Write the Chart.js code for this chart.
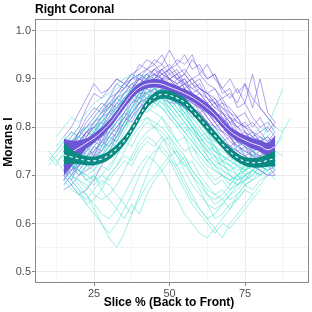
<!DOCTYPE html>
<html><head><meta charset="utf-8">
<script src="https://cdn.jsdelivr.net/npm/chart.js@4/dist/chart.umd.min.js"></script>
<style>html,body{margin:0;padding:0;background:#fff;}canvas{display:block;}</style>
</head><body>
<canvas id="c" width="312" height="312"></canvas>
<script>
const chartTitle = 'Right Coronal';
const xTitle = 'Slice % (Back to Front)';
const yTitle = 'Morans I';
const xTickLabels = [25, 50, 75];
const xGridValues = [12.5, 25, 37.5, 50, 62.5, 75, 87.5];
const yTickLabels = [0.5, 0.6, 0.7, 0.8, 0.9, 1.0];
const yGridValues = [0.5, 0.55, 0.6, 0.65, 0.7, 0.75, 0.8, 0.85, 0.9, 0.95, 1.0];

// x positions (slice %)
const meanX = [15,17.5,20,22.5,25,27.5,30,32.5,35,37.5,40,42.5,45,47.5,50,52.5,55,57.5,60,62.5,65,67.5,70,72.5,75,77.5,80,82.5,85];
const lineX = [10,12.5,15,17.5,20,22.5,25,27.5,30,32.5,35,37.5,40,42.5,45,47.5,50,52.5,55,57.5,60,62.5,65,67.5,70,72.5,75,77.5,80,82.5,85,87.5,90];

// smoothed means and ribbons
const purpleMean = [0.740,0.748,0.757,0.767,0.777,0.790,0.806,0.826,0.848,0.868,0.882,0.889,0.891,0.889,0.883,0.877,0.870,0.862,0.852,0.840,0.826,0.808,0.792,0.781,0.773,0.766,0.761,0.753,0.760];
const purpleLow  = [0.700,0.718,0.737,0.755,0.767,0.781,0.797,0.817,0.839,0.859,0.873,0.880,0.882,0.880,0.874,0.868,0.861,0.853,0.843,0.831,0.817,0.799,0.783,0.771,0.763,0.755,0.749,0.740,0.738];
const purpleHigh = [0.776,0.772,0.773,0.777,0.787,0.799,0.815,0.835,0.857,0.877,0.891,0.898,0.900,0.898,0.892,0.886,0.879,0.871,0.861,0.849,0.835,0.817,0.801,0.790,0.783,0.777,0.773,0.768,0.782];
const tealMean = [0.742,0.738,0.734,0.731,0.730,0.734,0.742,0.755,0.772,0.795,0.822,0.847,0.862,0.868,0.866,0.860,0.851,0.835,0.818,0.800,0.783,0.765,0.749,0.737,0.729,0.726,0.727,0.731,0.735];
const tealLow  = [0.722,0.724,0.723,0.721,0.721,0.725,0.733,0.746,0.763,0.786,0.813,0.838,0.853,0.859,0.857,0.851,0.842,0.826,0.809,0.791,0.774,0.756,0.740,0.728,0.720,0.716,0.716,0.718,0.718];
const tealHigh = [0.768,0.754,0.745,0.740,0.739,0.743,0.751,0.764,0.781,0.804,0.831,0.856,0.871,0.877,0.875,0.869,0.860,0.844,0.827,0.809,0.792,0.774,0.758,0.746,0.738,0.736,0.738,0.744,0.752];

// individual subjects, purple group (on meanX)
const purpleLines = [
 [0.76,0.78,0.80,0.84,0.87,0.86,0.88,0.90,0.89,0.91,0.92,0.94,0.93,0.95,0.92,0.94,0.93,0.95,0.91,0.93,0.90,0.88,0.90,0.87,0.89,0.86,0.84,0.82,0.80],
 [0.72,0.74,0.73,0.76,0.78,0.77,0.80,0.82,0.85,0.87,0.86,0.89,0.90,0.91,0.90,0.88,0.89,0.87,0.86,0.85,0.83,0.82,0.80,0.79,0.78,0.76,0.77,0.75,0.74],
 [0.75,0.77,0.79,0.78,0.81,0.83,0.84,0.86,0.88,0.90,0.91,0.92,0.91,0.92,0.90,0.91,0.89,0.88,0.89,0.86,0.85,0.83,0.82,0.80,0.81,0.79,0.78,0.77,0.78],
 [0.70,0.71,0.73,0.74,0.75,0.77,0.78,0.80,0.82,0.85,0.86,0.87,0.88,0.87,0.88,0.86,0.85,0.84,0.82,0.81,0.79,0.77,0.76,0.75,0.74,0.73,0.72,0.73,0.71],
 [0.73,0.75,0.76,0.78,0.80,0.82,0.83,0.85,0.87,0.88,0.90,0.89,0.90,0.89,0.88,0.87,0.88,0.86,0.85,0.84,0.83,0.81,0.80,0.78,0.77,0.76,0.75,0.74,0.76],
 [0.68,0.70,0.72,0.73,0.74,0.75,0.77,0.79,0.81,0.83,0.85,0.86,0.87,0.88,0.87,0.86,0.86,0.85,0.84,0.82,0.80,0.79,0.77,0.76,0.75,0.74,0.73,0.72,0.70],
 [0.77,0.76,0.79,0.80,0.82,0.84,0.86,0.87,0.89,0.90,0.91,0.90,0.92,0.91,0.90,0.89,0.90,0.88,0.87,0.86,0.84,0.83,0.81,0.80,0.79,0.78,0.79,0.77,0.79],
 [0.74,0.76,0.77,0.79,0.80,0.81,0.83,0.84,0.86,0.87,0.89,0.90,0.89,0.90,0.89,0.88,0.87,0.86,0.85,0.83,0.82,0.80,0.78,0.77,0.76,0.75,0.74,0.75,0.74],
 [0.72,0.74,0.75,0.77,0.78,0.80,0.82,0.84,0.86,0.88,0.89,0.91,0.90,0.92,0.93,0.91,0.92,0.90,0.91,0.89,0.88,0.86,0.87,0.85,0.89,0.84,0.90,0.83,0.81],
 [0.71,0.72,0.74,0.75,0.77,0.78,0.79,0.81,0.83,0.85,0.87,0.87,0.88,0.87,0.86,0.85,0.84,0.83,0.82,0.80,0.79,0.77,0.76,0.75,0.74,0.73,0.72,0.71,0.72],
 [0.78,0.80,0.83,0.86,0.89,0.87,0.88,0.90,0.89,0.91,0.90,0.92,0.93,0.91,0.92,0.90,0.89,0.90,0.88,0.87,0.86,0.84,0.83,0.81,0.80,0.79,0.77,0.78,0.76],
 [0.69,0.71,0.72,0.74,0.76,0.78,0.80,0.82,0.84,0.86,0.88,0.88,0.89,0.89,0.88,0.87,0.86,0.85,0.84,0.83,0.81,0.79,0.78,0.76,0.75,0.74,0.74,0.73,0.72],
 [0.76,0.77,0.78,0.80,0.81,0.83,0.85,0.87,0.88,0.90,0.90,0.91,0.92,0.93,0.91,0.90,0.91,0.89,0.88,0.87,0.85,0.84,0.82,0.81,0.80,0.78,0.77,0.76,0.77],
 [0.67,0.68,0.70,0.71,0.72,0.74,0.76,0.78,0.80,0.82,0.84,0.85,0.86,0.86,0.85,0.85,0.84,0.83,0.81,0.80,0.78,0.76,0.75,0.74,0.73,0.72,0.71,0.70,0.70],
 [0.74,0.75,0.77,0.79,0.81,0.82,0.84,0.86,0.87,0.89,0.90,0.90,0.91,0.90,0.92,0.93,0.91,0.94,0.92,0.90,0.91,0.88,0.86,0.88,0.85,0.91,0.84,0.82,0.80],
 [0.72,0.73,0.75,0.76,0.78,0.79,0.81,0.83,0.85,0.86,0.88,0.89,0.88,0.89,0.89,0.88,0.87,0.86,0.84,0.83,0.82,0.80,0.79,0.78,0.77,0.76,0.75,0.74,0.73],
 [0.70,0.68,0.66,0.67,0.69,0.72,0.75,0.78,0.81,0.83,0.85,0.86,0.87,0.86,0.86,0.85,0.84,0.83,0.82,0.80,0.79,0.77,0.76,0.74,0.73,0.72,0.71,0.70,0.71],
 [0.73,0.71,0.74,0.76,0.74,0.78,0.80,0.79,0.83,0.86,0.85,0.88,0.87,0.90,0.88,0.89,0.86,0.87,0.84,0.85,0.82,0.80,0.81,0.78,0.77,0.75,0.76,0.74,0.75],
 [0.75,0.73,0.76,0.78,0.80,0.79,0.82,0.85,0.84,0.87,0.89,0.88,0.91,0.89,0.90,0.88,0.89,0.87,0.86,0.84,0.85,0.82,0.80,0.79,0.77,0.78,0.76,0.75,0.77],
 [0.71,0.73,0.72,0.75,0.77,0.76,0.79,0.81,0.83,0.82,0.85,0.87,0.86,0.88,0.87,0.85,0.86,0.84,0.83,0.81,0.80,0.78,0.76,0.77,0.74,0.75,0.73,0.74,0.72],
 [0.74,0.76,0.78,0.77,0.79,0.81,0.83,0.82,0.85,0.88,0.90,0.89,0.90,0.92,0.90,0.89,0.90,0.87,0.88,0.86,0.84,0.85,0.82,0.80,0.78,0.79,0.77,0.78,0.76],
 [0.70,0.72,0.71,0.73,0.76,0.75,0.78,0.80,0.82,0.84,0.87,0.86,0.88,0.87,0.89,0.87,0.86,0.87,0.85,0.83,0.81,0.82,0.79,0.77,0.78,0.75,0.74,0.75,0.73],
 [0.77,0.79,0.78,0.81,0.83,0.85,0.84,0.87,0.89,0.88,0.91,0.90,0.92,0.90,0.91,0.92,0.89,0.90,0.88,0.87,0.85,0.86,0.83,0.82,0.80,0.81,0.79,0.80,0.78],
 [0.72,0.70,0.73,0.72,0.75,0.77,0.79,0.78,0.81,0.84,0.86,0.85,0.87,0.88,0.86,0.87,0.85,0.86,0.83,0.84,0.81,0.79,0.80,0.77,0.76,0.74,0.75,0.73,0.74],
 [0.75,0.77,0.76,0.79,0.80,0.82,0.85,0.84,0.87,0.89,0.88,0.90,0.91,0.90,0.90,0.91,0.88,0.89,0.87,0.85,0.86,0.83,0.81,0.82,0.79,0.77,0.78,0.76,0.78],
 [0.69,0.72,0.70,0.72,0.74,0.77,0.76,0.79,0.82,0.81,0.84,0.86,0.85,0.87,0.86,0.87,0.85,0.84,0.85,0.82,0.80,0.81,0.78,0.76,0.77,0.74,0.73,0.72,0.74],
 [0.76,0.74,0.77,0.79,0.78,0.80,0.83,0.86,0.85,0.88,0.90,0.91,0.89,0.91,0.92,0.90,0.91,0.89,0.90,0.87,0.88,0.85,0.84,0.82,0.83,0.80,0.82,0.79,0.81],
 [0.73,0.75,0.74,0.77,0.79,0.78,0.81,0.83,0.85,0.86,0.88,0.87,0.89,0.88,0.88,0.86,0.87,0.85,0.86,0.84,0.82,0.83,0.80,0.78,0.79,0.77,0.75,0.76,0.75],
 [0.71,0.69,0.72,0.74,0.73,0.76,0.78,0.77,0.80,0.83,0.85,0.84,0.86,0.87,0.85,0.86,0.84,0.82,0.83,0.81,0.79,0.77,0.78,0.75,0.76,0.73,0.74,0.72,0.73],
 [0.74,0.76,0.79,0.82,0.84,0.83,0.86,0.89,0.88,0.90,0.93,0.92,0.94,0.93,0.96,0.93,0.95,0.92,0.93,0.90,0.91,0.87,0.88,0.84,0.85,0.82,0.80,0.81,0.79],
 [0.74,0.72,0.75,0.77,0.79,0.81,0.80,0.83,0.86,0.87,0.86,0.89,0.89,0.90,0.88,0.90,0.88,0.86,0.87,0.85,0.83,0.81,0.82,0.79,0.78,0.76,0.77,0.75,0.76]
];

// individual subjects, cyan group (on lineX)
const cyanLines = [
 [null,null,0.73,0.72,0.74,0.73,0.72,0.74,0.76,0.78,0.81,0.84,0.86,0.87,0.88,0.87,0.86,0.85,0.83,0.81,0.79,0.77,0.75,0.74,0.73,0.72,0.71,0.72,0.73,0.74,0.75,null,null],
 [0.74,0.72,0.75,0.73,0.71,0.70,0.71,0.73,0.75,0.77,0.80,0.83,0.85,0.86,0.87,0.86,0.85,0.83,0.81,0.79,0.77,0.75,0.74,0.72,0.71,0.70,0.71,0.72,0.74,0.75,null,null,null],
 [null,null,0.70,0.68,0.66,0.64,0.65,0.67,0.70,0.72,0.75,0.78,0.80,0.82,0.81,0.80,0.78,0.75,0.72,0.70,0.68,0.66,0.65,0.66,0.68,0.70,0.72,0.71,0.73,null,null,null,null],
 [null,0.76,0.78,0.77,0.79,0.80,0.82,0.84,0.86,0.88,0.89,0.90,0.91,0.90,0.89,0.88,0.86,0.84,0.82,0.80,0.78,0.76,0.75,0.74,0.73,0.74,0.76,0.75,0.77,0.78,0.80,0.79,null],
 [null,null,null,0.69,0.67,0.64,0.62,0.60,0.58,0.60,0.63,0.66,0.70,0.73,0.75,0.76,0.74,0.71,0.68,0.65,0.63,0.61,0.62,0.64,0.66,0.68,0.69,0.70,null,null,null,null,null],
 [0.72,0.74,0.76,0.75,0.74,0.76,0.78,0.80,0.82,0.84,0.86,0.87,0.88,0.89,0.88,0.87,0.86,0.85,0.83,0.81,0.79,0.77,0.76,0.74,0.73,0.72,0.73,0.74,0.75,0.77,0.76,0.78,null],
 [null,null,0.72,0.70,0.69,0.68,0.66,0.65,0.66,0.68,0.71,0.74,0.77,0.79,0.80,0.79,0.77,0.74,0.71,0.68,0.66,0.64,0.63,0.64,0.66,0.67,0.69,0.70,0.72,0.71,null,null,null],
 [null,0.78,0.80,0.82,0.81,0.83,0.85,0.86,0.87,0.89,0.90,0.91,0.90,0.91,0.90,0.89,0.87,0.86,0.84,0.82,0.80,0.78,0.77,0.76,0.75,0.76,0.77,0.78,0.80,0.79,null,null,null],
 [null,null,0.74,0.73,0.72,0.71,0.73,0.75,0.78,0.81,0.84,0.86,0.87,0.86,0.87,0.85,0.84,0.82,0.80,0.78,0.76,0.74,0.72,0.71,0.70,0.69,0.70,0.71,0.73,0.72,0.74,null,null],
 [null,null,null,null,0.75,0.74,0.73,0.75,0.77,0.79,0.82,0.84,0.85,0.86,0.85,0.84,0.82,0.80,0.78,0.76,0.74,0.72,0.71,0.70,0.69,0.70,0.72,0.74,0.77,0.80,0.84,0.88,null],
 [null,null,0.71,0.69,0.67,0.66,0.64,0.62,0.61,0.63,0.66,0.69,0.72,0.74,0.73,0.71,0.68,0.65,0.62,0.60,0.58,0.57,0.59,0.61,0.63,0.66,0.68,0.69,null,null,null,null,null],
 [null,0.75,0.77,0.76,0.78,0.77,0.79,0.81,0.83,0.85,0.87,0.88,0.89,0.90,0.89,0.88,0.87,0.86,0.84,0.82,0.80,0.78,0.76,0.75,0.74,0.73,0.72,0.73,0.72,0.71,0.73,null,null],
 [null,null,null,0.70,0.68,0.66,0.63,0.60,0.57,0.55,0.58,0.62,0.66,0.70,0.74,0.77,0.78,0.76,0.74,0.71,0.69,0.67,0.66,0.65,0.67,0.69,0.70,null,null,null,null,null,null],
 [null,null,0.73,0.74,0.72,0.73,0.75,0.77,0.80,0.83,0.85,0.87,0.88,0.87,0.88,0.86,0.85,0.83,0.81,0.79,0.77,0.75,0.73,0.72,0.71,0.72,0.70,0.71,0.72,0.73,null,null,null],
 [null,null,null,0.72,0.71,0.70,0.69,0.70,0.72,0.74,0.77,0.79,0.81,0.82,0.80,0.78,0.75,0.72,0.69,0.66,0.63,0.61,0.59,0.57,0.60,0.62,0.64,0.66,0.68,0.70,0.72,null,null],
 [null,null,0.76,0.78,0.80,0.79,0.81,0.83,0.85,0.86,0.88,0.89,0.89,0.88,0.89,0.87,0.86,0.84,0.82,0.80,0.78,0.76,0.74,0.73,0.72,0.71,0.72,0.74,0.73,0.75,null,null,null],
 [0.73,0.75,0.77,0.79,0.78,0.77,0.79,0.80,0.82,0.84,0.86,0.87,0.86,0.85,0.86,0.84,0.83,0.81,0.79,0.77,0.75,0.73,0.72,0.70,0.69,0.68,0.70,0.71,0.70,0.72,null,null,null],
 [null,null,0.69,0.67,0.66,0.65,0.67,0.69,0.68,0.66,0.64,0.62,0.65,0.68,0.70,0.72,0.74,0.75,0.73,0.70,0.67,0.64,0.61,0.62,0.64,0.65,0.67,null,null,null,null,null,null],
 [null,null,0.74,0.76,0.75,0.77,0.79,0.82,0.84,0.86,0.85,0.87,0.86,0.87,0.86,0.85,0.83,0.81,0.79,0.77,0.75,0.73,0.71,0.70,0.69,0.70,0.68,0.69,0.70,0.71,0.69,null,null],
 [null,null,0.75,0.77,0.76,0.74,0.77,0.79,0.81,0.80,0.83,0.85,0.87,0.86,0.88,0.86,0.84,0.85,0.82,0.80,0.77,0.78,0.75,0.73,0.74,0.72,0.71,0.73,0.72,0.74,null,null,null],
 [null,0.73,0.71,0.72,0.70,0.72,0.71,0.74,0.77,0.76,0.79,0.82,0.84,0.83,0.85,0.84,0.82,0.80,0.81,0.78,0.75,0.73,0.74,0.71,0.70,0.68,0.69,0.71,0.70,0.72,0.71,null,null],
 [null,null,0.68,0.70,0.69,0.67,0.70,0.72,0.71,0.74,0.77,0.76,0.79,0.81,0.80,0.82,0.79,0.77,0.78,0.74,0.72,0.70,0.68,0.69,0.67,0.68,0.70,0.69,0.71,null,null,null,null],
 [null,null,null,0.74,0.76,0.75,0.78,0.81,0.80,0.83,0.86,0.85,0.87,0.88,0.86,0.87,0.85,0.83,0.84,0.81,0.78,0.79,0.76,0.74,0.72,0.73,0.71,0.72,0.74,0.73,0.75,0.74,null],
 [null,null,0.72,0.70,0.71,0.69,0.68,0.70,0.69,0.71,0.73,0.72,0.75,0.77,0.76,0.78,0.76,0.74,0.72,0.73,0.70,0.68,0.66,0.67,0.65,0.66,0.68,0.67,0.69,0.70,null,null,null],
 [0.75,0.73,0.74,0.76,0.78,0.77,0.80,0.82,0.81,0.84,0.86,0.88,0.87,0.89,0.88,0.87,0.88,0.85,0.83,0.84,0.81,0.79,0.77,0.78,0.75,0.74,0.72,0.73,0.71,0.73,0.72,null,null],
 [null,null,null,null,0.71,0.69,0.70,0.68,0.70,0.72,0.74,0.73,0.76,0.78,0.77,0.75,0.73,0.70,0.67,0.64,0.62,0.60,0.58,0.60,0.59,0.61,0.63,0.65,0.67,null,null,null,null],
 [null,null,0.77,0.75,0.78,0.80,0.79,0.82,0.84,0.83,0.86,0.88,0.87,0.89,0.90,0.88,0.89,0.86,0.85,0.83,0.81,0.79,0.80,0.77,0.75,0.76,0.74,0.75,0.77,0.76,0.78,null,null],
 [null,null,0.70,0.72,0.71,0.73,0.72,0.75,0.78,0.77,0.80,0.83,0.82,0.84,0.83,0.82,0.80,0.77,0.75,0.76,0.73,0.71,0.69,0.70,0.68,0.70,0.69,0.71,0.70,null,null,null,null],
 [null,null,null,0.73,0.71,0.69,0.70,0.67,0.65,0.63,0.61,0.64,0.62,0.66,0.69,0.71,0.73,0.72,0.74,0.71,0.69,0.66,0.64,0.65,0.63,0.65,0.67,0.66,null,null,null,null,null],
 [null,null,0.74,0.72,0.73,0.75,0.77,0.76,0.79,0.82,0.84,0.83,0.86,0.85,0.87,0.86,0.84,0.82,0.83,0.80,0.78,0.75,0.76,0.73,0.72,0.70,0.71,0.73,0.72,0.74,0.76,0.79,0.82],
 [null,null,null,0.71,0.73,0.72,0.74,0.76,0.75,0.78,0.81,0.80,0.83,0.85,0.84,0.86,0.83,0.81,0.79,0.80,0.77,0.74,0.72,0.73,0.70,0.69,0.71,0.70,0.72,0.71,null,null,null]
];

const pts = (xs, ys) => ys.map((y, i) => ({x: xs[i], y})).filter(p => p.y !== null && p.x !== undefined);
const near = (v, list) => list.some(t => Math.abs(t - v) < 1e-6);

const datasets = [];
purpleLines.forEach(l => datasets.push({data: pts(meanX, l), borderColor: 'rgba(108,86,222,0.6)', borderWidth: 0.9, pointRadius: 0, tension: 0, fill: false, order: 60}));
cyanLines.forEach(l => datasets.push({data: pts(lineX, l), borderColor: 'rgba(70,225,208,0.6)', borderWidth: 0.9, pointRadius: 0, tension: 0, fill: false, order: 50}));
const pLowIdx = datasets.length;
datasets.push({data: pts(meanX, purpleLow), borderColor: 'rgba(0,0,0,0)', borderWidth: 0, pointRadius: 0, tension: 0.4, fill: false, order: 40});
datasets.push({data: pts(meanX, purpleHigh), borderColor: 'rgba(0,0,0,0)', borderWidth: 0, pointRadius: 0, tension: 0.4, fill: {target: pLowIdx}, backgroundColor: '#6e55d6', order: 40});
datasets.push({data: pts(meanX, purpleMean), borderColor: '#f4eefc', borderWidth: 1, pointRadius: 0, tension: 0.4, fill: false, order: 35});
const tLowIdx = datasets.length;
datasets.push({data: pts(meanX, tealLow), borderColor: 'rgba(0,0,0,0)', borderWidth: 0, pointRadius: 0, tension: 0.4, fill: false, order: 30});
datasets.push({data: pts(meanX, tealHigh), borderColor: 'rgba(0,0,0,0)', borderWidth: 0, pointRadius: 0, tension: 0.4, fill: {target: tLowIdx}, backgroundColor: '#0b8a84', order: 30});
datasets.push({data: pts(meanX, tealMean), borderColor: '#ffffff', borderWidth: 1.1, borderDash: [3, 3], pointRadius: 0, tension: 0.4, fill: false, order: 25});

const FONT = '"Liberation Sans", Arial, Helvetica, sans-serif';

const textPlugin = {
  id: 'texts',
  afterDraw(chart) {
    const ctx = chart.ctx, a = chart.chartArea;
    ctx.save();
    ctx.strokeStyle = '#8a8a8a';
    ctx.lineWidth = 1;
    ctx.strokeRect(a.left + 0.5, a.top + 0.5, a.right - a.left - 1, a.bottom - a.top - 1);
    ctx.fillStyle = '#000';
    ctx.font = 'bold 12px ' + FONT;
    ctx.textBaseline = 'middle';
    ctx.textAlign = 'left';
    ctx.fillText(chartTitle, 35, 9.5);
    ctx.textAlign = 'center';
    ctx.fillText(xTitle, 169, 303);
    ctx.translate(8.5, 142);
    ctx.rotate(-Math.PI / 2);
    ctx.fillText(yTitle, 0, 0);
    ctx.restore();
  }
};

new Chart(document.getElementById('c'), {
  type: 'line',
  data: {datasets},
  options: {
    responsive: false,
    animation: false,
    events: [],
    layout: {padding: {top: 19, right: 3, left: 0, bottom: 0}},
    plugins: {legend: {display: false}, tooltip: {enabled: false}, title: {display: false}},
    scales: {
      x: {
        type: 'linear', min: 5.46, max: 96.19,
        afterBuildTicks: s => { s.ticks = xGridValues.map(v => ({value: v})); },
        afterFit: s => { s.height = 29; },
        border: {display: false},
        grid: {
          color: c => (c.tick && near(c.tick.value, xTickLabels)) ? '#ebebeb' : '#f4f4f4',
          tickColor: c => (c.tick && near(c.tick.value, xTickLabels)) ? '#8a8a8a' : 'rgba(0,0,0,0)',
          tickLength: 3
        },
        ticks: {
          autoSkip: false, maxRotation: 0, padding: 1, color: '#4d4d4d',
          font: {size: 11, family: FONT},
          callback: v => near(v, xTickLabels) ? String(v) : ''
        }
      },
      y: {
        type: 'linear', min: 0.4766, max: 1.0243,
        afterBuildTicks: s => { s.ticks = yGridValues.map(v => ({value: v})); },
        afterFit: s => { s.width = 35; },
        border: {display: false},
        grid: {
          color: c => (c.tick && near(c.tick.value, yTickLabels)) ? '#ebebeb' : '#f4f4f4',
          tickColor: c => (c.tick && near(c.tick.value, yTickLabels)) ? '#8a8a8a' : 'rgba(0,0,0,0)',
          tickLength: 3
        },
        ticks: {
          autoSkip: false, padding: 1, color: '#4d4d4d',
          font: {size: 11, family: FONT},
          callback: v => near(v, yTickLabels) ? v.toFixed(1) : ''
        }
      }
    }
  },
  plugins: [textPlugin]
});
</script>
</body></html>
